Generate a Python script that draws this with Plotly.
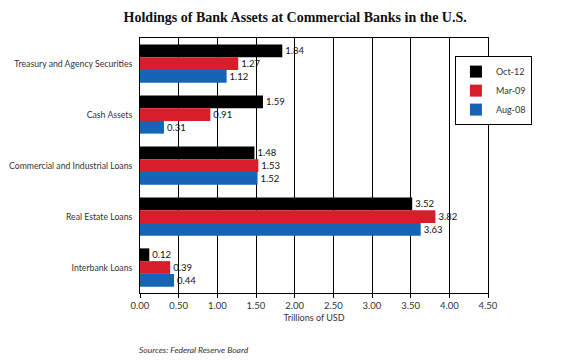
import plotly.graph_objects as go

categories = ["Treasury and Agency Securities", "Cash Assets", "Commercial and Industrial Loans",
              "Real Estate Loans", "Interbank Loans"]
oct12 = [1.84, 1.59, 1.48, 3.52, 0.12]
mar09 = [1.27, 0.91, 1.53, 3.82, 0.39]
aug08 = [1.12, 0.31, 1.52, 3.63, 0.44]
tick_vals = [0, 0.5, 1.0, 1.5, 2.0, 2.5, 3.0, 3.5, 4.0, 4.5]
tick_text = ["0.00", "0.50", "1.00", "1.50", "2.00", "2.50", "3.00", "3.50", "4.00", "4.50"]

series = [("Oct-12", oct12, "#000000"), ("Mar-09", mar09, "#d81e2a"), ("Aug-08", aug08, "#1565b4")]

fig = go.Figure()
for name, vals, col in series:
    fig.add_trace(go.Bar(
        y=categories, x=vals, name=name, orientation="h",
        marker=dict(color=col, line=dict(width=0)),
        text=[f"{v:.2f}" for v in vals], textposition="outside",
        textfont=dict(size=9.5, color="#111"), cliponaxis=False,
    ))

fig.update_layout(
    width=562, height=363,
    margin=dict(l=132, r=82, t=30, b=78, autoexpand=False),
    paper_bgcolor="white", plot_bgcolor="white",
    barmode="group", bargap=0.25, bargroupgap=0,
    font=dict(family="Lato, Open Sans, sans-serif", size=9, color="#333"),
    title=dict(text="<b>Holdings of Bank Assets at Commercial Banks in the U.S.</b>",
               x=0.511, xanchor="center", y=0.975, yanchor="middle",
               font=dict(family="Liberation Serif, serif", size=14, color="#111")),
    legend=dict(x=0.905, y=0.929, xanchor="left", yanchor="top", traceorder="normal",
                bgcolor="white", bordercolor="black", borderwidth=1,
                font=dict(size=9, color="#333"), itemwidth=30, tracegroupgap=0),
    showlegend=True,
)
fig.update_xaxes(range=[0, 4.5], tickvals=tick_vals, ticktext=tick_text,
                 showgrid=True, gridcolor="black", gridwidth=1,
                 showline=True, linecolor="black", linewidth=1, mirror=True,
                 ticks="outside", ticklen=4, tickcolor="black", automargin=False,
                 tickfont=dict(size=9.5, color="#333"),
                 title=dict(text="Trillions of USD", font=dict(size=9, color="#333"), standoff=4),
                 zeroline=False)
fig.update_yaxes(categoryorder="array", categoryarray=categories, autorange="reversed",
                 showline=True, linecolor="black", linewidth=1, mirror=True,
                 ticks="", ticklabelstandoff=5, automargin=False,
                 tickfont=dict(size=8.7, color="#333"))
fig.add_annotation(text="<i>Sources: Federal Reserve Board</i>", xref="paper", yref="paper",
                   x=-0.01, y=-0.224, xanchor="left", yanchor="middle", showarrow=False,
                   font=dict(size=8.5, color="#333"))
fig.write_html("out.html")
